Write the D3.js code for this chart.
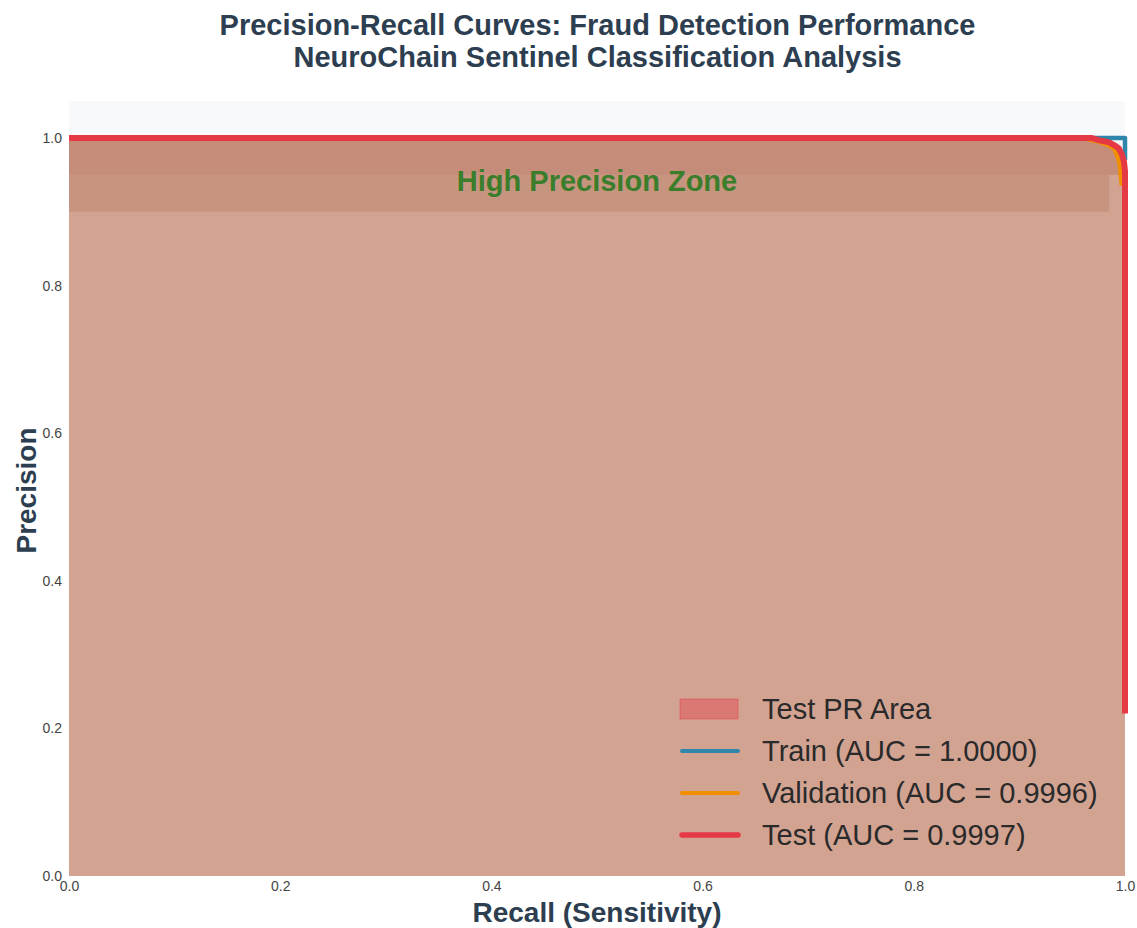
<!DOCTYPE html>
<html>
<head>
<meta charset="utf-8">
<script src="https://cdn.jsdelivr.net/npm/d3@7"></script>
<style>
  body { margin: 0; background: #fff; }
  text { font-family: "Liberation Sans", Arial, sans-serif; }
</style>
</head>
<body>
<div id="chart"></div>
<script>
// PR curve points (recall, precision)
const trainRecall = [0, 0.5, 0.976, 0.99, 1.0, 1.0];
const trainPrecision = [1.0, 1.0, 1.0, 1.0, 1.0, 0.97];

const valRecall = [0, 0.5, 0.96, 0.968, 0.975, 0.985, 0.99, 0.993, 0.995, 0.996, 0.997];
const valPrecision = [1.0, 1.0, 1.0, 0.997, 0.995, 0.99, 0.985, 0.975, 0.965, 0.95, 0.935];

const testRecall = [0, 0.5, 0.968, 0.975, 0.985, 0.99, 0.994, 0.997, 0.999, 1.0, 1.0];
const testPrecision = [1.0, 1.0, 1.0, 0.997, 0.994, 0.99, 0.986, 0.978, 0.968, 0.955, 0.22];

const zoneBands = [[0.9, 0.95, "#c7947f"], [0.95, 1.0, "#c58c79"]];
const tickValues = [0, 0.2, 0.4, 0.6, 0.8, 1.0];

const series = [
  { name: "Train (AUC = 1.0000)", r: trainRecall, p: trainPrecision, color: "#2e86ab", width: 4.5, lw: 4 },
  { name: "Validation (AUC = 0.9996)", r: valRecall, p: valPrecision, color: "#f18f01", width: 4.5, lw: 4 },
  { name: "Test (AUC = 0.9997)", r: testRecall, p: testPrecision, color: "#e63946", width: 6, lw: 5.5 }
];

const W = 1137, H = 928;
const margin = { top: 101, right: 12, bottom: 52, left: 69 };

const svg = d3.select("#chart")
  .append("svg")
  .attr("width", W)
  .attr("height", H);

const x = d3.scaleLinear().domain([0, 1]).range([margin.left, W - margin.right]);
const y = d3.scaleLinear().domain([0, 1.05]).range([H - margin.bottom, margin.top]);

// plot background
svg.append("rect")
  .attr("x", x(0)).attr("y", y(1.05))
  .attr("width", x(1) - x(0)).attr("height", y(0) - y(1.05))
  .attr("fill", "#f8f9fa");

const testPts = testRecall.map((r, i) => [r, testPrecision[i]]);

const area = d3.area()
  .x(d => x(d[0]))
  .y0(y(0))
  .y1(d => y(d[1]));

svg.append("path")
  .datum(testPts)
  .attr("fill", "#d3a392")
  .attr("d", area);

svg.append("clipPath").attr("id", "areaClip")
  .append("path").datum(testPts).attr("d", area);

svg.append("g").attr("clip-path", "url(#areaClip)")
  .selectAll("rect")
  .data(zoneBands)
  .join("rect")
  .attr("x", x(0))
  .attr("width", d => x(d[0] > 0.92 ? 0.995 : 0.985) - x(0))
  .attr("y", d => y(d[1]))
  .attr("height", d => y(d[0]) - y(d[1]))
  .attr("fill", d => d[2]);

svg.append("text")
  .attr("x", x(0.5))
  .attr("y", y(0.95))
  .attr("dy", "0.55em")
  .attr("text-anchor", "middle")
  .attr("fill", "#3a7d2a")
  .attr("font-weight", "bold")
  .attr("font-size", "29px")
  .text("High Precision Zone");

const line = d3.line()
  .x(d => x(d[0]))
  .y(d => y(d[1]));

series.forEach(s => {
  svg.append("path")
    .datum(s.r.map((r, i) => [r, s.p[i]]))
    .attr("fill", "none")
    .attr("stroke", s.color)
    .attr("stroke-width", s.width)
    .attr("stroke-linejoin", "round")
    .attr("d", line);
});

// axes
const xAxis = svg.append("g")
  .attr("transform", `translate(0, ${y(0)})`)
  .call(d3.axisBottom(x).tickValues(tickValues).tickFormat(d3.format(".1f")).tickSize(0).tickPadding(5));
const yAxis = svg.append("g")
  .attr("transform", `translate(${x(0)}, 0)`)
  .call(d3.axisLeft(y).tickValues(tickValues).tickFormat(d3.format(".1f")).tickSize(0).tickPadding(7));
[xAxis, yAxis].forEach(a => {
  a.select(".domain").remove();
  a.selectAll("text")
    .attr("font-family", "Liberation Sans, Arial, sans-serif")
    .attr("font-size", "14px")
    .attr("fill", "#444");
});

// titles
svg.append("text")
  .attr("x", W / 2 + 29).attr("y", 35)
  .attr("text-anchor", "middle")
  .attr("fill", "#2c3e50")
  .attr("font-weight", "bold")
  .attr("font-size", "29px")
  .text("Precision-Recall Curves: Fraud Detection Performance");
svg.append("text")
  .attr("x", W / 2 + 29).attr("y", 67)
  .attr("text-anchor", "middle")
  .attr("fill", "#2c3e50")
  .attr("font-weight", "bold")
  .attr("font-size", "29px")
  .text("NeuroChain Sentinel Classification Analysis");

svg.append("text")
  .attr("x", x(0.5)).attr("y", 922)
  .attr("text-anchor", "middle")
  .attr("fill", "#2c3e50")
  .attr("font-weight", "bold")
  .attr("font-size", "28px")
  .text("Recall (Sensitivity)");

svg.append("text")
  .attr("transform", `translate(36, ${(y(0) + y(1.05)) / 2 + 2}) rotate(-90)`)
  .attr("text-anchor", "middle")
  .attr("fill", "#2c3e50")
  .attr("font-weight", "bold")
  .attr("font-size", "28px")
  .text("Precision");

// legend
const legend = svg.append("g").attr("transform", "translate(680, 709)");
legend.append("rect")
  .attr("x", 0).attr("y", -10)
  .attr("width", 58).attr("height", 20)
  .attr("fill", "rgba(230,57,70,0.4)")
  .attr("stroke", "rgba(230,57,70,0.3)")
  .attr("stroke-width", 1.5);
legend.append("text")
  .attr("x", 82).attr("y", 0).attr("dy", "0.35em")
  .attr("font-size", "29px").attr("fill", "#2a2a2a")
  .text("Test PR Area");
series.forEach((s, i) => {
  const g = legend.append("g").attr("transform", `translate(0, ${42 * (i + 1)})`);
  g.append("line")
    .attr("x1", 2).attr("x2", 58)
    .attr("stroke", s.color)
    .attr("stroke-width", s.lw)
    .attr("stroke-linecap", "round");
  g.append("text")
    .attr("x", 82).attr("y", 0).attr("dy", "0.35em")
    .attr("font-size", "29px").attr("fill", "#2a2a2a")
    .text(s.name);
});
</script>
</body>
</html>
